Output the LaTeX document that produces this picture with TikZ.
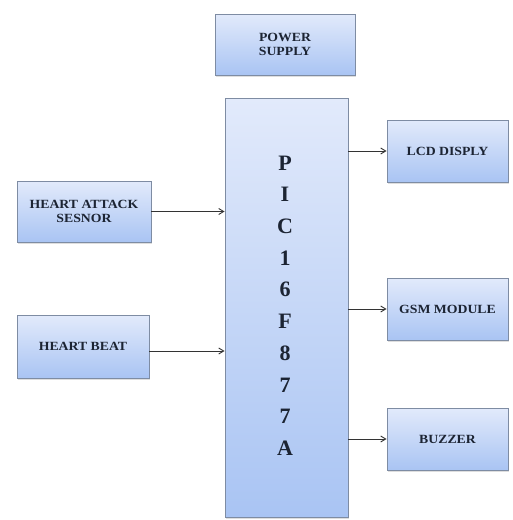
\documentclass[tikz,border=0pt]{standalone}
\usepackage{fontspec}
\setmainfont{Liberation Serif}
\newfontfamily\boxfont[FakeStretch=1.1]{Liberation Serif}
\usetikzlibrary{arrows.meta,shadows}
\definecolor{boxtop}{HTML}{E2EAFB}
\definecolor{boxbot}{HTML}{A9C4F3}
\definecolor{boxline}{HTML}{7E8CA3}
\definecolor{txt}{HTML}{1C2433}
\tikzset{
  blk/.style={draw=boxline, line width=0.9pt, top color=boxtop, bottom color=boxbot,
    drop shadow={shadow xshift=1pt, shadow yshift=-1.5pt, fill=black!25, opacity=0.5},
    font=\boxfont\bfseries\fontsize{12.5}{14.5}\selectfont, text=txt, align=center},
  conn/.style={draw=black!80, line width=0.9pt, -{Straight Barb[length=5pt,width=6pt]}},
}
\begin{document}
\begin{tikzpicture}[x=1pt,y=-1pt]
\useasboundingbox[fill=white] (0,0) rectangle (512,520);
\node[blk, minimum width=140, minimum height=61] (ps) at (285,44.5) {POWER\\SUPPLY};
\node[blk, minimum width=123, minimum height=419] (pic) at (286.5,307.5) {};
\node[blk, minimum width=134, minimum height=61] (has) at (84,211.5) {HEART ATTACK\\SESNOR};
\node[blk, minimum width=132, minimum height=63] (hb) at (83,346.5) {HEART BEAT};
\node[blk, minimum width=121, minimum height=62] (lcd) at (447.5,151) {LCD DISPLY};
\node[blk, minimum width=121, minimum height=62] (gsm) at (447.5,309) {GSM MODULE};
\node[blk, minimum width=121, minimum height=62] (buz) at (447.5,439) {BUZZER};
\foreach \c [count=\i from 0] in {P,I,C,1,6,F,8,7,7,A} {
  \node[font=\bfseries\fontsize{22}{22}\selectfont, text=txt, anchor=center] (l\i) at (285,163+31.7*\i) {\c};
}
\draw[conn] (has.east) -- (has.east -| pic.west);
\draw[conn] ([yshift=-4.5]hb.east) -- ([yshift=-4.5]hb.east -| pic.west);
\draw[conn] (lcd.west -| pic.east) -- (lcd.west);
\draw[conn] (gsm.west -| pic.east) -- (gsm.west);
\draw[conn] (buz.west -| pic.east) -- (buz.west);
\end{tikzpicture}
\end{document}
